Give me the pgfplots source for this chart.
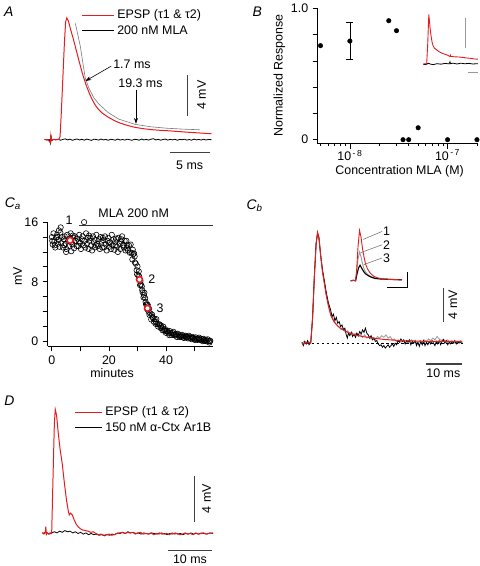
\documentclass[border=0pt]{standalone}
\usepackage{fontspec}
\setmainfont{Liberation Sans}
\usepackage{pgfplots}
\pgfplotsset{compat=1.18}
\usetikzlibrary{arrows.meta}
\definecolor{tred}{RGB}{228,28,32}
\definecolor{fitgray}{RGB}{120,120,120}
\begin{document}
\fontsize{12.5}{14}\selectfont
\begin{tikzpicture}[x=1pt,y=1pt,font=\fontsize{12.5}{14}\selectfont]
\path (0pt,0pt) rectangle (480pt,566pt);
\pgfplotsset{
  /pgf/number format/assume math mode=true,
  every axis/.append style={scale only axis, anchor=south west, clip=false},
  tick label style={font=\fontsize{12.5}{14}\selectfont},
  trace/.style={axis lines=none},
  igor/.style={axis x line*=bottom, axis y line*=left, tick align=outside,
     axis line style={line width=0.8pt}, tick style={black,line width=0.8pt},
     major tick length=5pt, minor tick length=2.5pt},
}
\tikzset{sbar/.style={line width=1.2pt, black!75}, lab/.style={inner sep=1pt}}

% ================= Panel A =================
\begin{axis}[trace, at={(42pt,429pt)}, width=168pt, height=123.6pt, xmin=0,xmax=21,ymin=0,ymax=12]
\addplot[black, line width=0.8pt] coordinates {(0,0.02)(0.3,-0.03)(0.6,0.01)(0.75,-0.35)(0.8,0.45)(0.9,-0.1)(1.1,0.03)(1.4,-0.02)(1.7,0.04)(2.0,-0.05)(2.3,0.03)(2.6,0.08)(2.9,-0.02)(3.2,0.05)(3.5,-0.06)(3.8,0.02)(4.1,0.07)(4.4,-0.03)(4.7,0.04)(5.0,-0.05)(5.3,0.06)(5.6,0.0)(5.9,-0.07)(6.2,0.05)(6.5,0.02)(6.8,-0.04)(7.1,0.06)(7.4,-0.02)(7.7,0.03)(8.0,-0.06)(8.3,0.04)(8.6,0.01)(8.9,-0.05)(9.2,0.07)(9.5,-0.03)(9.8,0.02)(10.1,-0.04)(10.4,0.05)(10.7,0.0)(11.0,-0.06)(11.3,0.04)(11.6,0.02)(11.9,-0.05)(12.2,0.06)(12.5,-0.02)(12.8,0.03)(13.1,-0.04)(13.4,0.05)(13.7,0.1)(14.0,-0.03)(14.3,0.04)(14.6,-0.05)(14.9,0.02)(15.2,0.06)(15.5,-0.04)(15.8,0.03)(16.1,-0.02)(16.4,0.05)(16.7,-0.06)(17.0,0.03)(17.3,0.0)(17.6,0.05)(17.9,-0.04)(18.2,0.02)(18.5,-0.05)(18.8,0.06)(19.1,-0.02)(19.4,0.03)(19.7,-0.04)(20.0,0.05)(20.3,-0.03)(20.6,0.02)(21,0.0)};
\addplot[tred, line width=1pt] coordinates {(0,0)(0.4,0.02)(0.75,-0.3)(0.8,0.4)(0.9,-0.05)(1.2,0.03)(1.5,0)(1.8,0.05)(1.95,0.3)(2.1,2.5)(2.3,6)(2.5,9.5)(2.65,11.5)(2.8,11.9)(3.0,11.6)(3.3,10.7)(3.6,9.9)(3.9,9.0)(4.3,7.8)(4.75,6.5)(5.2,5.4)(5.6,4.6)(6.0,3.9)(6.4,3.35)(6.8,2.95)(7.25,2.6)(8,2.2)(8.7,1.9)(9.4,1.65)(10.4,1.4)(11.4,1.2)(12.5,1.07)(13.5,0.98)(14.5,0.92)(15.6,0.87)(16.8,0.8)(18,0.73)(19,0.68)(20,0.63)(21,0.58)};
\addplot[fitgray, line width=0.6pt] coordinates {(3.875,11.36)(4.2,10.2)(4.5,9.13)(4.8,7.6)(5.125,6.0)(5.6,5.0)(6.2,4.1)(6.875,3.45)(8,2.65)(9.375,2.0)(11.375,1.5)(13.4,1.26)(15.375,1.12)(17.5,1.03)(19.5,0.97)};
\end{axis}
\node[font=\fontsize{14}{16}\selectfont\itshape] at (6pt,558pt) {A};
\draw[tred, line width=1pt] (80pt,554pt) -- (112pt,554pt);
\node[lab, anchor=west] at (114pt,554pt) {EPSP (τ1 \& τ2)};
\draw[black, line width=1pt] (80pt,539pt) -- (112pt,539pt);
\node[lab, anchor=west] at (114pt,539pt) {200 nM MLA};
\node[lab, anchor=west] at (110pt,505pt) {1.7 ms};
\draw[-{Stealth[length=6pt,width=4pt]}, line width=0.6pt] (109pt,503pt) -- (83pt,488pt);
\node[lab] at (138.5pt,486pt) {19.3 ms};
\draw[-{Stealth[length=6pt,width=4pt]}, line width=0.6pt] (134pt,479pt) -- (134pt,445pt);
\draw[sbar] (186pt,494pt) -- (186pt,453pt);
\node[lab, rotate=90] at (200pt,474pt) {4 mV};
\draw[sbar] (168pt,416pt) -- (208pt,416pt);
\node[lab] at (188pt,403.5pt) {5 ms};

% ================= Panel B =================
\begin{axis}[igor, at={(316.7pt,425pt)}, width=161.3pt, height=136pt,
  xmode=log, xmin=4.66e-9, xmax=2.04e-7, ymin=-0.0303, ymax=1.0,
  ytick={0,0.2,0.4,0.6,0.8,1.0}, yticklabels={0,,,,,1.0},
  xtick={1e-8,1e-7}, xticklabels={10\textsuperscript{\,-\,8},10\textsuperscript{\,-\,7}},
  minor xtick={5e-9,6e-9,7e-9,8e-9,9e-9,2e-8,3e-8,4e-8,5e-8,6e-8,7e-8,8e-8,9e-8,2e-7},
  xticklabel style={yshift=3pt}]
\addplot[only marks, mark=*, mark size=2.3pt, black] coordinates {(5e-9,0.717)(2.5e-8,0.907)(3e-8,0.831)(3.5e-8,0)(4e-8,0)(5e-8,0.091)(1e-7,0)(2e-7,0)};
\addplot[only marks, mark=*, mark size=2.3pt, black, error bars/.cd, y dir=both, y explicit,
  error bar style={line width=0.8pt}, error mark options={rotate=90, mark size=3.5pt, line width=0.8pt}]
  coordinates {(1e-8,0.752) +- (0,0.142)};
\end{axis}
\node[font=\fontsize{14}{16}\selectfont\itshape] at (256pt,558pt) {B};
\node[lab, rotate=90] at (278.3pt,493.5pt) {Normalized Response};
\node[lab] at (399.3pt,397.2pt) {Concentration MLA (M)};
% inset B
\begin{axis}[trace, at={(423pt,505pt)}, width=55pt, height=50pt, xmin=0,xmax=55,ymin=0,ymax=50]
\addplot[black, line width=0.8pt] coordinates {(0,0)(3,-0.5)(5,1)(7,0.2)(10,-0.5)(14,0.5)(18,0)(22,0.8)(26,0.3)(27,2.5)(27.5,0.5)(30,1)(34,0.2)(38,1)(42,0.4)(46,0.8)(50,0.2)(55,0.5)};
\addplot[tred, line width=0.9pt] coordinates {(0,0)(2,0.5)(3.5,0)(4.5,18)(5.3,40)(5.7,50)(6.3,44)(7,36)(8,28)(9,22)(10,18.5)(11.5,16)(13.7,14.3)(16,12.5)(19,11)(22,10)(24,9.3)(27,7.7)(27.5,9)(28,7.8)(32,7.4)(36,7.2)(40,6.8)(44,6.2)(48,5.8)(52,5.2)(55,5)};
\end{axis}
\draw[line width=1pt, black!40] (465.7pt,551pt) -- (465.7pt,521pt);
\draw[line width=1pt, black!40] (467.7pt,497pt) -- (477.7pt,497pt);

% ================= Panel Ca =================
\begin{axis}[igor, at={(45pt,221pt)}, width=166.7pt, height=125pt,
  xmin=-1.5, xmax=56.5, ymin=-0.67, ymax=16,
  ytick={0,2,...,16}, yticklabels={0,,,,8,,,,16},
  xtick={0,10,...,50}, xticklabels={0,,20,,40,}]
\addplot[only marks, mark=o, mark size=2.7pt, black, mark options={line width=0.6pt}] coordinates {
(0.0,14.0)(0.3,13.0)(0.6,14.5)(0.9,13.4)(1.2,12.6)(1.5,13.9)(1.8,14.3)(2.1,13.1)(2.4,13.6)(2.7,12.7)
(3.0,14.6)(3.3,13.2)(3.6,14.0)(3.9,12.6)(4.2,13.7)(4.5,14.1)(4.8,13.1)(5.1,12.4)(5.4,14.3)(5.7,13.5)
(6.0,12.8)(6.3,13.8)(6.6,14.5)(6.9,13.3)(7.2,13.0)(7.5,13.9)(7.8,12.5)(8.1,14.1)(8.4,13.5)(8.7,12.8)
(9.0,13.8)(9.3,12.8)(9.6,14.3)(9.9,13.2)(10.2,12.4)(10.5,13.7)(10.8,14.1)(11.1,12.9)(11.4,13.5)(11.7,12.6)
(12.0,14.5)(12.3,13.1)(12.6,13.9)(12.9,12.4)(13.2,13.5)(13.5,13.9)(13.8,12.9)(14.1,12.2)(14.4,14.1)(14.7,13.3)
(15.0,12.6)(15.3,13.6)(15.6,14.3)(15.9,13.1)(16.2,12.8)(16.5,13.7)(16.8,12.4)(17.1,14.0)(17.4,13.4)(17.7,12.6)
(18.0,13.6)(18.3,12.6)(18.6,14.1)(18.9,13.0)(19.2,12.2)(19.5,13.5)(19.8,13.9)(20.1,12.7)(20.4,13.3)(20.7,12.4)
(21.0,14.3)(21.3,12.9)(21.6,13.7)(21.9,12.3)(22.2,13.4)(22.5,13.8)(22.8,12.7)(23.1,12.0)(23.4,13.9)(23.7,13.1)
(24.0,12.4)(24.3,13.4)(24.6,14.1)(24.9,12.9)(25.2,12.6)(25.5,13.5)(25.8,12.2)(26.1,13.5)(26.4,12.9)(26.7,12.2)
(27.0,12.9)(27.3,11.9)(27.6,13.0)(27.9,11.9)(28.2,11.0)(28.5,11.7)(28.8,11.8)(29.1,10.6)(29.4,10.45)(29.7,9.55)
(30.0,10.05)(30.3,8.84)(30.6,8.72)(30.9,7.55)(31.2,7.65)(31.5,7.4)(31.8,6.58)(32.1,5.9)(32.4,6.53)(32.7,5.8)
(33.0,4.96)(33.3,4.98)(33.6,4.9)(33.9,4.0)(34.2,3.55)(34.5,3.75)(34.8,2.95)(35.1,3.6)(35.4,3.15)(35.7,2.65)
(36.0,3.0)(36.3,2.36)(36.6,2.99)(36.9,2.33)(37.2,2.0)(37.5,2.28)(37.8,2.28)(38.1,1.81)(38.4,1.87)(38.7,1.51)
(39.0,2.0)(39.3,1.5)(39.6,1.66)(39.9,1.16)(40.2,1.42)(40.5,1.46)(40.8,1.08)(41.1,0.84)(41.4,1.37)(41.7,1.1)
(42.0,0.85)(42.3,1.12)(42.6,1.29)(42.9,0.9)(43.2,0.78)(43.5,1.01)(43.8,0.59)(44.1,1.03)(44.4,0.82)(44.7,0.59)
(45.0,0.82)(45.3,0.6)(45.6,0.88)(45.9,0.64)(46.2,0.46)(46.5,0.7)(46.8,0.76)(47.1,0.5)(47.4,0.6)(47.7,0.4)
(48.0,0.76)(48.3,0.46)(48.6,0.6)(48.9,0.3)(49.2,0.5)(49.5,0.56)(49.8,0.34)(50.1,0.18)(50.4,0.54)(50.7,0.36)
(51.0,0.2)(51.3,0.38)(51.6,0.5)(51.9,0.24)(52.2,0.16)(52.5,0.32)(52.8,0.04)(53.1,0.34)(53.4,0.2)(53.7,0.04)
(54.0,0.22)(54.3,0.0)(54.6,0.28)(54.9,0.04)(55.2,-0.15)(55.5,0.08)
(3.1,15.3)(11.3,16.0)(29.0,11.4)(2.5,14.9)(5.0,12.0)(6.8,12.1)
(0.15,13.5)(1.05,12.9)(1.95,14.0)(4.35,12.9)(7.35,14.2)(9.45,13.4)(13.05,14.2)(15.45,12.9)(17.85,13.9)(19.95,13.2)(22.35,12.9)(24.45,13.7)
(26.25,12.5)(28.35,12.3)(29.85,9.0)(30.45,9.4)(31.05,8.1)(31.65,6.9)(32.25,6.2)(32.85,5.3)(33.45,4.3)(34.05,4.4)(35.25,3.3)(36.45,2.6)
(38.25,2.1)(39.75,1.4)(41.25,1.15)(43.35,0.9)(45.15,0.7)(47.25,0.65)(49.35,0.45)(51.45,0.28)(53.25,0.12)(55.35,0.02)};
\addplot[only marks, mark=*, mark size=3pt, mark options={fill=white, draw=tred, line width=1.6pt}] coordinates {(6.4,13.56)(30.7,8.3)(33.5,4.44)};
\draw[line width=0.8pt, black!80] (axis cs:9.5,15.6) -- (axis cs:56.5,15.6);
\end{axis}
\node[font=\fontsize{14}{16}\selectfont\itshape] at (10pt,364.3pt) {C\textsubscript{a}};
\node[lab, rotate=90] at (15pt,291.7pt) {mV};
\node[lab] at (110pt,194.3pt) {minutes};
\node[lab] at (131.7pt,355pt) {MLA 200 nM};
\node[lab] at (66.7pt,347.7pt) {1};
\node[lab] at (150pt,288.3pt) {2};
\node[lab] at (158.3pt,259.3pt) {3};

% ================= Panel Cb =================
\begin{axis}[trace, at={(301pt,224.3pt)}, width=161.7pt, height=116.6pt, xmin=0,xmax=45.3,ymin=0,ymax=14]
\draw[line width=0.6pt, dash pattern=on 2.5pt off 2.5pt] (axis cs:0,0) -- (axis cs:45.3,0);
\addplot[black!40, line width=0.8pt] coordinates {(0,0)(0.6,0.2)(1.2,-0.1)(1.8,0.2)(2.5,0)(3.0,3)(3.5,8)(4.0,12)(4.4,13.2)(4.8,12.6)(5.3,10.4)(5.8,8.7)(6.3,7.3)(6.9,5.8)(7.5,4.6)(8.1,3.6)(8.7,3.0)(9.3,2.5)(9.9,2.2)(10.5,1.9)(11.1,1.6)(11.7,1.8)(12.3,1.3)(12.9,1.5)(13.5,1.1)(14.1,1.3)(14.7,0.9)(15.3,1.2)(15.9,0.8)(16.5,1.0)(17.1,0.7)(17.7,1.0)(18.3,0.6)(18.9,0.8)(19.5,0.5)(20.1,0.7)(20.7,0.4)(21.3,0.8)(21.9,0.6)(22.5,0.9)(23.1,0.7)(23.7,1.0)(24.3,0.6)(24.9,0.8)(25.5,0.4)(26.1,0.5)(26.7,0.2)(27.3,0.4)(27.9,0.1)(28.5,0.3)(29.1,0.0)(29.7,0.3)(30.3,0.1)(30.9,0.4)(31.5,0.0)(32.1,0.2)(32.7,-0.1)(33.3,0.3)(33.9,0.1)(34.5,0.4)(35.1,0.2)(35.7,0.5)(36.3,0.3)(36.9,0.6)(37.5,0.4)(38.1,0.8)(38.7,0.5)(39.3,0.3)(39.9,0.5)(40.5,0.2)(41.1,0.4)(41.7,0.1)(42.3,0.3)(42.9,0.0)(43.5,0.2)(44.1,0.1)(44.7,0.3)(45.2,0.2)};
\addplot[black, line width=0.8pt] coordinates {(0,0.1)(0.4,-0.3)(0.8,0.2)(1.2,-0.1)(1.6,0.3)(2.0,-0.2)(2.5,0.1)(3.0,3.0)(3.5,8)(4.0,12)(4.4,13.3)(4.8,12.7)(5.3,10.6)(5.8,8.9)(6.3,7.6)(6.8,6.3)(7.4,5.0)(7.8,4.4)(8.1,4.0)(8.5,3.2)(8.9,3.5)(9.3,2.7)(9.7,3.1)(10.1,2.4)(10.5,2.6)(10.9,2.0)(11.3,2.2)(11.7,1.6)(12.1,1.8)(12.5,1.0)(12.8,0.6)(13.1,1.2)(13.5,0.9)(13.9,1.3)(14.3,0.8)(14.7,1.1)(15.1,0.7)(15.5,1.2)(15.9,0.9)(16.3,1.4)(16.7,1.1)(17.1,1.6)(17.5,1.3)(17.9,1.8)(18.3,1.2)(18.7,1.0)(19.1,0.6)(19.5,0.9)(19.9,0.4)(20.3,0.6)(20.7,0.2)(21.1,0.3)(21.5,-0.1)(21.9,-0.3)(22.3,-0.2)(22.7,-0.5)(23.1,-0.3)(23.5,-0.6)(23.9,-0.4)(24.3,-0.2)(24.7,-0.5)(25.1,-0.3)(25.5,-0.1)(25.9,-0.4)(26.3,0.0)(26.7,-0.2)(27.1,0.3)(27.5,0.1)(27.9,0.5)(28.3,0.2)(28.7,0.4)(29.1,-0.1)(29.5,0.3)(29.9,0.1)(30.3,0.4)(30.7,-0.2)(31.1,0.2)(31.5,0.0)(31.9,0.3)(32.3,-0.3)(32.7,0.1)(33.1,-0.4)(33.5,0.2)(33.9,-0.2)(34.3,0.3)(34.7,-0.3)(35.1,0.1)(35.5,-0.2)(35.9,0.2)(36.3,-0.1)(36.7,0.3)(37.1,0.0)(37.5,-0.3)(37.9,0.2)(38.3,-0.1)(38.7,0.3)(39.1,-0.2)(39.5,0.2)(39.9,0.4)(40.3,0.0)(40.7,0.3)(41.1,-0.2)(41.5,0.1)(41.9,-0.1)(42.3,0.2)(42.7,0.0)(43.1,0.3)(43.5,-0.1)(43.9,0.2)(44.3,0.0)(44.7,0.1)(45.2,0.1)};
\addplot[tred, line width=1pt] coordinates {(0,0)(0.5,-0.1)(1,0.1)(1.5,0)(2.0,0.05)(2.5,0.1)(3.0,3)(3.5,8)(4.0,12)(4.4,13.4)(4.8,12.8)(5.3,10.5)(5.8,8.6)(6.25,7.4)(6.8,5.9)(7.4,4.6)(8.1,3.4)(9,2.6)(10,2.1)(10.9,1.8)(12,1.5)(13.5,1.2)(15,1.0)(17,0.8)(20.2,0.6)(23,0.45)(27.7,0.3)(32,0.25)(36,0.2)(40,0.2)(45,0.2)};
\end{axis}
\node[font=\fontsize{14}{16}\selectfont\itshape] at (253.3pt,362.7pt) {C\textsubscript{b}};
% inset Cb
\begin{axis}[trace, at={(350pt,287pt)}, width=51.7pt, height=50.7pt, xmin=0,xmax=51.7,ymin=0,ymax=50.7]
\addplot[black!40, line width=0.9pt] coordinates {(0,0)(3,0.5)(5,0)(6,8)(7.5,22)(9,29)(10.5,24)(12,17)(13.5,12)(15,9)(17,6.5)(20,4.5)(24,3)(30,2)(38,1.5)(45,1.2)(51.7,1)};
\addplot[black, line width=1.1pt] coordinates {(0,0)(3,0.5)(5,0)(6,5)(8,13)(9.5,15.7)(11,13)(13,9.5)(15,7)(18,5)(21,3.5)(25,2.3)(30,1.8)(38,1.5)(45,1.2)(51.7,1)};
\addplot[tred, line width=0.9pt] coordinates {(0,0)(3,0.5)(5,0)(6,10)(7.5,35)(9,50.7)(10.5,44)(12,32)(13.5,24)(15,17)(17,12)(19.5,8)(23.3,4.5)(27,3)(32,2)(38,1.5)(45,1.2)(51.7,1)};
\end{axis}
\draw[line width=0.9pt] (406.7pt,296pt) -- (406.7pt,280pt) -- (386.7pt,280pt);
\draw[line width=0.5pt, black!60] (362.7pt,328.7pt) -- (381.7pt,336.7pt);
\draw[line width=0.5pt, black!60] (360pt,315.3pt) -- (381.7pt,323.3pt);
\draw[line width=0.5pt, black!60] (363.3pt,303.3pt) -- (381.7pt,310pt);
\node[lab, anchor=west] at (381.5pt,336.7pt) {1};
\node[lab, anchor=west] at (381.5pt,323.3pt) {2};
\node[lab, anchor=west] at (381.5pt,310pt) {3};
\draw[sbar] (443.3pt,279.3pt) -- (443.3pt,246pt);
\node[lab, rotate=90] at (453pt,263pt) {4 mV};
\draw[sbar] (426pt,203.3pt) -- (461.7pt,203.3pt);
\node[lab] at (443.3pt,194.3pt) {10 ms};

% ================= Panel D =================
\begin{axis}[trace, at={(40pt,32.7pt)}, width=171.7pt, height=128.4pt, xmin=0,xmax=39,ymin=0,ymax=11]
\addplot[black, line width=0.8pt] coordinates {(0,0)(0.75,0.1)(1.5,-0.05)(2.1,0.05)(2.7,0.15)(3.3,0.05)(3.9,0.2)(4.5,0.1)(5.1,0.25)(5.7,0.15)(6.3,0.2)(6.9,0.05)(7.5,0.15)(8.1,0.0)(8.7,0.1)(9.3,-0.05)(9.9,0.05)(10.5,-0.1)(11.1,0.0)(11.7,-0.1)(12.3,-0.05)(12.9,-0.15)(13.5,-0.1)(14.1,-0.2)(14.7,-0.1)(15.3,-0.15)(15.9,-0.05)(16.5,-0.1)(17.1,0.05)(17.7,0.0)(18.3,0.1)(18.9,0.0)(19.5,0.15)(20.1,0.05)(20.7,0.1)(21.3,0.0)(21.9,0.05)(22.5,-0.05)(23.1,0.05)(23.7,0.0)(24.3,-0.05)(24.9,0.05)(25.5,0.0)(26.1,-0.05)(26.7,0.05)(27.3,-0.05)(27.9,0.0)(28.5,-0.1)(29.1,0.0)(29.7,-0.05)(30.3,0.05)(30.9,-0.05)(31.5,0.0)(32.1,-0.1)(32.7,0.0)(33.3,-0.05)(33.9,0.05)(34.5,-0.05)(35.1,0.0)(35.7,-0.05)(36.3,0.05)(36.9,0.0)(37.5,-0.05)(38.2,0.05)(39,0.0)};
\addplot[tred, line width=1pt] coordinates {(0,0.1)(0.3,-0.05)(0.6,0.1)(0.75,0.6)(0.85,-0.1)(1.1,0.05)(1.4,-0.05)(1.7,0.05)(2.0,0.0)(2.1,0.3)(2.4,5)(2.7,9.5)(2.9,10.7)(3.2,10.2)(3.6,8.6)(4.0,7.3)(4.5,6.0)(5.0,4.3)(5.5,2.8)(5.9,1.9)(6.1,1.6)(6.4,1.75)(6.8,1.6)(7.2,1.2)(7.7,0.8)(8.2,0.55)(8.7,0.4)(9.2,0.3)(9.8,0.25)(10.4,0.2)(11,0.1)(11.6,0.15)(12.2,0.0)(12.8,-0.1)(13.4,-0.05)(14,-0.15)(14.6,-0.1)(15.2,-0.05)(15.8,-0.15)(16.4,-0.1)(17,0.0)(17.6,0.05)(18.2,0.1)(18.8,0.0)(19.4,0.1)(20,0.05)(20.6,0.1)(21.2,-0.05)(21.8,0.05)(22.4,0.1)(23,-0.05)(23.6,0.0)(24.2,-0.05)(24.8,0.05)(25.4,-0.1)(26,0.0)(26.6,-0.05)(27.2,0.05)(27.8,-0.05)(28.4,0.0)(29,-0.1)(29.6,0.05)(30.2,-0.05)(30.8,0.0)(31.4,-0.1)(32,-0.05)(32.6,0.05)(33.2,-0.05)(33.8,0.0)(34.4,-0.1)(35,0.05)(35.6,-0.05)(36.2,0.0)(36.8,0.05)(37.4,-0.05)(38,0.0)(39,0.05)};
\end{axis}
\node[font=\fontsize{14}{16}\selectfont\itshape] at (6.7pt,166pt) {D};
\draw[tred, line width=1pt] (72.7pt,154.3pt) -- (100pt,154.3pt);
\node[lab, anchor=west] at (102pt,154.3pt) {EPSP (τ1 \& τ2)};
\draw[black, line width=1pt] (72.7pt,139.3pt) -- (100pt,139.3pt);
\node[lab, anchor=west] at (102pt,139.3pt) {150 nM α-Ctx Ar1B};
\draw[sbar] (193.3pt,91pt) -- (193.3pt,44.3pt);
\node[lab, rotate=90] at (205pt,67.7pt) {4 mV};
\draw[sbar] (166.7pt,15.5pt) -- (210.7pt,15.5pt);
\node[lab] at (188.3pt,7pt) {10 ms};
\end{tikzpicture}
\end{document}
